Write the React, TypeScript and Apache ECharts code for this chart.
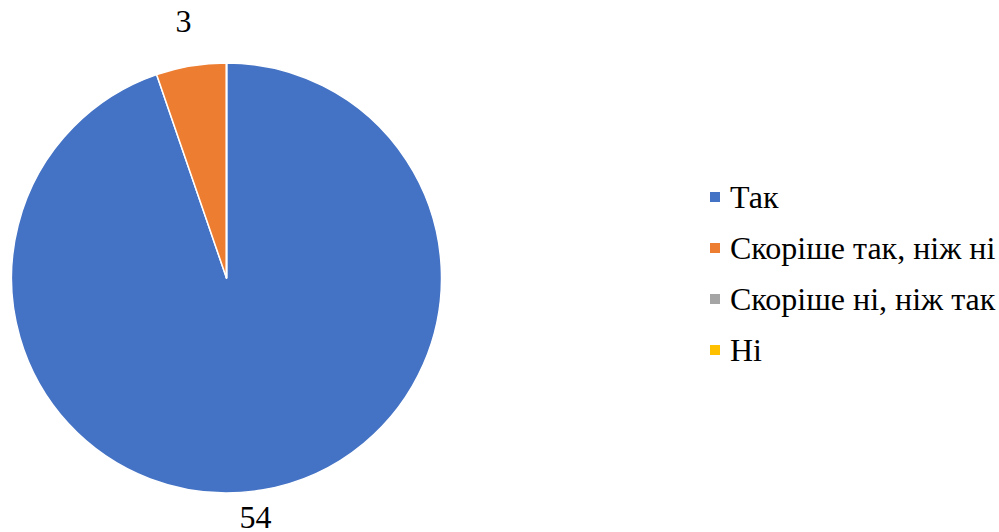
import React, { useEffect, useRef } from "react";
import * as echarts from "echarts";

const categories = ["Так", "Скоріше так, ніж ні", "Скоріше ні, ніж так", "Ні"];
const values = [54, 3, 0, 0];
const colors = ["#4472C4", "#ED7D31", "#A5A5A5", "#FFC000"];
const labelOffsets: [number, number][] = [[-14, -18], [0, 0], [0, 0], [0, 0]];

const FONT = '"Liberation Serif", "Times New Roman", serif';

export default function App() {
  const ref = useRef<HTMLDivElement>(null);
  useEffect(() => {
    if (!ref.current) return;
    const chart = echarts.init(ref.current, undefined, { renderer: "svg" });
    const mainData = categories.map((name, i) => ({
      name,
      value: values[i],
      itemStyle: { color: colors[i] },
    }));
    const ghostData = categories.map((name, i) => ({
      name,
      value: values[i],
      label: { offset: labelOffsets[i] },
    }));
    chart.setOption({
      animation: false,
      backgroundColor: "#ffffff",
      textStyle: { fontFamily: FONT },
      legend: {
        orient: "vertical",
        left: 703,
        top: 176,
        itemWidth: 12,
        itemHeight: 12,
        itemGap: 19,
        icon: "rect",
        data: categories,
        textStyle: {
          fontFamily: FONT,
          fontSize: 32,
          lineHeight: 32,
          color: "#000000",
          padding: [0, 0, 0, 4],
        },
      },
      series: [
        {
          type: "pie",
          center: [226.5, 278],
          radius: [0, 215],
          startAngle: 90,
          clockwise: true,
          data: mainData,
          label: { show: false },
          labelLine: { show: false },
          itemStyle: { borderColor: "#ffffff", borderWidth: 1.5 },
          emphasis: { disabled: true },
        },
        {
          type: "pie",
          center: [226.5, 278],
          radius: [250, 265],
          startAngle: 90,
          clockwise: true,
          silent: true,
          data: ghostData,
          itemStyle: { color: "rgba(0,0,0,0)" },
          labelLine: { show: false },
          label: {
            show: true,
            position: "inside",
            fontFamily: FONT,
            fontSize: 32,
            lineHeight: 24,
            color: "#000000",
            formatter: (p: any) => (p.value > 0 ? String(p.value) : ""),
          },
          emphasis: { disabled: true },
        },
      ],
    });
    return () => chart.dispose();
  }, []);
  return (
    <div
      ref={ref}
      style={{ position: "fixed", left: 0, top: 0, width: 999, height: 532 }}
    />
  );
}
